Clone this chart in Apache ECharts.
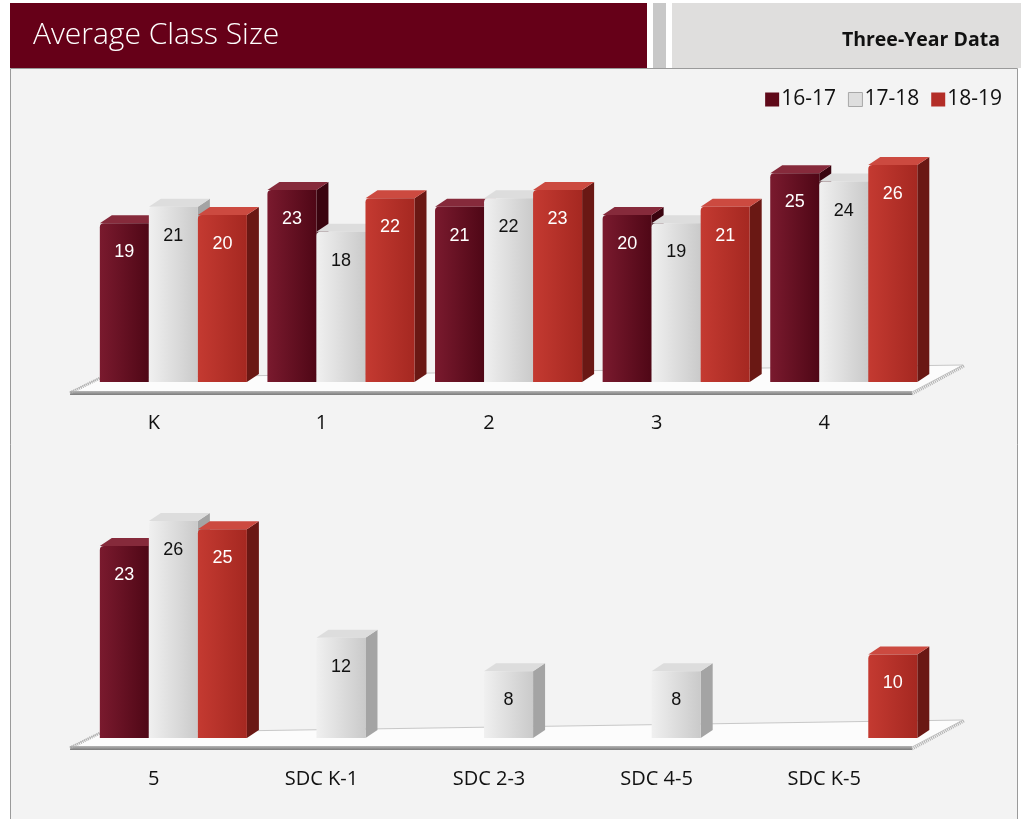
<!DOCTYPE html>
<html>
<head>
<meta charset="utf-8">
<script src="https://cdn.jsdelivr.net/npm/echarts@6/dist/echarts.min.js"></script>
<style>
  html, body { margin: 0; padding: 0; background: #fff; }
  #main { width: 1024px; height: 819px; }
</style>
</head>
<body>
<div id="main"></div>
<script>
// data
const seriesNames = ['16-17', '17-18', '18-19'];
const catsTop = ['K', '1', '2', '3', '4'];
const catsBottom = ['5', 'SDC K-1', 'SDC 2-3', 'SDC 4-5', 'SDC K-5'];
const top1617 = [19, 23, 21, 20, 25];
const top1718 = [21, 18, 22, 19, 24];
const top1819 = [20, 22, 23, 21, 26];
const bot1617 = [23, null, null, null, null];
const bot1718 = [26, 12, 8, 8, null];
const bot1819 = [25, null, null, null, 10];

// look of each year: front gradient, side, top, label colour
const looks = [
  {front: ['#7a1a2e', '#4f0716'], side: '#3a040f', top: '#862a3b', text: '#fff', legend: '#5e0818'},
  {front: ['#f0f0f0', '#cacaca'], side: '#a4a4a4', top: '#dddddd', text: '#111', legend: '#dedede'},
  {front: ['#c43a31', '#a52821'], side: '#6a1814', top: '#cc4a40', text: '#fff', legend: '#b32d27'}
];

const chart = echarts.init(document.getElementById('main'));
const gridL = 70, gridW = 838;
const depthX = 12, depthY = 8;
const uiFont = '"Open Sans", "Noto Sans", sans-serif';

function barRenderer(idx) {
  const look = looks[idx];
  return function (params, api) {
    const v = api.value(1);
    if (v == null || isNaN(v)) return;
    const base = api.coord([api.value(0), 0]);
    const tp = api.coord([api.value(0), v]);
    const band = api.size([1, 0])[0];
    const w = band * 0.2925;
    const x0 = base[0] - band * 0.322 + idx * w;
    const x1 = x0 + w;
    const yb = base[1], yt = tp[1];
    return {
      type: 'group',
      children: [
        {
          type: 'polygon',
          shape: {points: [[x1, yt], [x1 + depthX, yt - depthY], [x1 + depthX, yb - depthY], [x1, yb]]},
          style: {fill: look.side}
        },
        {
          type: 'polygon',
          shape: {points: [[x0, yt], [x0 + depthX, yt - depthY], [x1 + depthX, yt - depthY], [x1, yt]]},
          style: {fill: look.top}
        },
        {
          type: 'rect',
          shape: {x: x0, y: yt, width: w, height: yb - yt, r: [4, 0, 0, 0]},
          style: {
            fill: new echarts.graphic.LinearGradient(0, 0, 1, 0, [
              {offset: 0, color: look.front[0]},
              {offset: 1, color: look.front[1]}
            ])
          }
        },
        {
          type: 'text',
          style: {
            text: String(v), x: (x0 + x1) / 2, y: yt + 29,
            align: 'center', verticalAlign: 'middle',
            fill: look.text, font: '18px "Liberation Sans", Arial, sans-serif'
          }
        }
      ]
    };
  };
}

function floor(yFront) {
  const yBackL = yFront - 14, yBackR = yFront - 27;
  return [
    {
      type: 'polygon', silent: true,
      shape: {points: [[70, yFront], [912, yFront], [963, yBackR], [100, yBackL]]},
      style: {fill: '#fcfcfc', stroke: '#c8c8c8', lineWidth: 1}
    },
    {
      type: 'rect', silent: true,
      shape: {x: 70, y: yFront - 1, width: 842, height: 4},
      style: {fill: new echarts.graphic.LinearGradient(0, 0, 0, 1, [
        {offset: 0, color: '#b5b5b5'}, {offset: 1, color: '#7a7a7a'}
      ])}
    },
    {
      type: 'polyline', silent: true,
      shape: {points: [[912, yFront + 2], [964, yBackR + 1]]},
      style: {stroke: '#b0b0b0', lineWidth: 3, lineDash: [1, 1]}
    },
    {
      type: 'polyline', silent: true,
      shape: {points: [[70, yFront + 1], [100, yBackL]]},
      style: {stroke: '#b0b0b0', lineWidth: 3, lineDash: [1, 1]}
    }
  ];
}

const topSets = [top1617, top1718, top1819];
const botSets = [bot1617, bot1718, bot1819];
const series = [];
[topSets, botSets].forEach((sets, g) => {
  sets.forEach((arr, i) => {
    series.push({
      name: seriesNames[i],
      type: 'custom',
      xAxisIndex: g,
      yAxisIndex: g,
      itemStyle: {color: looks[i].legend},
      renderItem: barRenderer(i),
      data: arr.map((v, k) => [k, v])
    });
  });
});

const catLabel = {
  color: '#111', fontSize: 20, margin: 31, fontFamily: uiFont
};

chart.setOption({
  animation: false,
  backgroundColor: '#fff',
  title: {
    text: 'Average Class Size', left: 28, top: 15,
    textStyle: {color: '#fff', fontSize: 30, fontWeight: 300, fontFamily: uiFont}
  },
  legend: {
    data: seriesNames.map((n, i) => ({
      name: n,
      itemStyle: i === 1 ? {borderColor: '#a8a8a8', borderWidth: 1} : {}
    })),
    right: 17, top: 84, itemWidth: 14, itemHeight: 14, itemGap: 12, icon: 'rect',
    textStyle: {fontSize: 21, color: '#111', padding: [0, 0, 0, -3], fontFamily: uiFont}
  },
  graphic: [
    {type: 'rect', z: -10, silent: true, shape: {x: 10.5, y: 68.5, width: 1007, height: 760}, style: {fill: '#f3f3f3', stroke: '#9a9a9a', lineWidth: 1}},
    {type: 'rect', z: -9, silent: true, shape: {x: 10, y: 3, width: 637, height: 65}, style: {fill: '#660018'}},
    {type: 'rect', z: -9, silent: true, shape: {x: 653, y: 3, width: 13, height: 65}, style: {fill: '#c8c8c8'}},
    {type: 'rect', z: -9, silent: true, shape: {x: 672, y: 3, width: 349, height: 65}, style: {fill: '#dfdedd'}},
    {type: 'text', z: 5, silent: true, style: {
      text: 'Three-Year Data', x: 1000, y: 40, align: 'right', verticalAlign: 'middle',
      fill: '#111', font: 'bold 19.5px ' + uiFont
    }},
    {type: 'group', z: -5, silent: true, children: floor(392)},
    {type: 'group', z: -5, silent: true, children: floor(747)}
  ],
  grid: [
    {left: gridL, width: gridW, top: 131.5, height: 250.5},
    {left: gridL, width: gridW, top: 487.5, height: 250.5}
  ],
  xAxis: [
    {type: 'category', gridIndex: 0, data: catsTop, axisLine: {show: false}, axisTick: {show: false}, axisLabel: catLabel},
    {type: 'category', gridIndex: 1, data: catsBottom, axisLine: {show: false}, axisTick: {show: false}, axisLabel: catLabel}
  ],
  yAxis: [
    {type: 'value', gridIndex: 0, min: 0, max: 30, show: false, splitLine: {show: false}},
    {type: 'value', gridIndex: 1, min: 0, max: 30, show: false, splitLine: {show: false}}
  ],
  series: series
});
</script>
</body>
</html>
